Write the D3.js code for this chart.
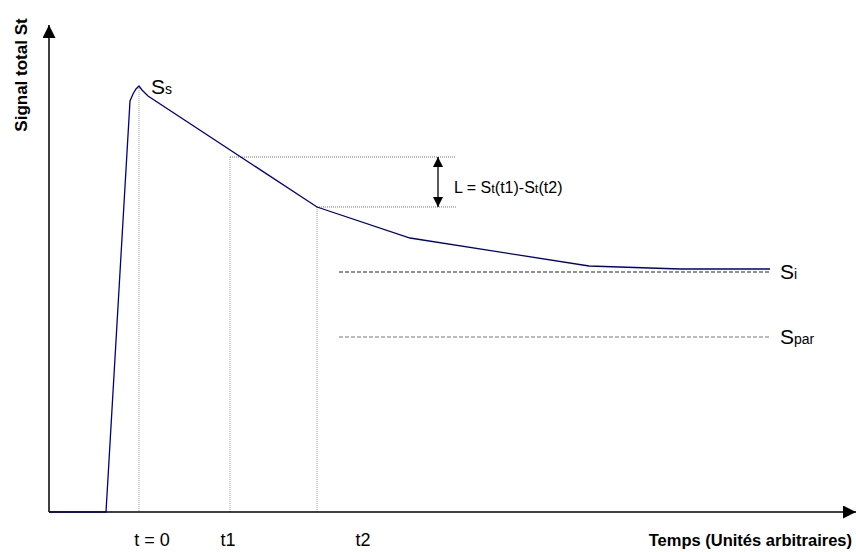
<!DOCTYPE html>
<html>
<head>
<meta charset="utf-8">
<script src="https://cdn.jsdelivr.net/npm/d3@7"></script>
<style>
  body { margin: 0; background: #fff; }
  text { font-family: "Liberation Sans", Arial, sans-serif; }
</style>
</head>
<body>
<div id="chart"></div>
<script>
// signal curve (arbitrary units)
const times   = [0, 57, 81, 84, 87, 90, 93, 99, 268, 361, 540, 631, 721];
const signals = [0, 0, 411, 418, 423, 426, 422, 416, 305, 274, 246, 243, 243];

const tickNames = ["t = 0", "t1", "t2"];
const tickTimes = [90, 181, 268];
const tickLabelPos = [103, 179, 314];
const tickSignals = [426, 355, 305];

const levelNames = ["Si", "Spar"];
const levelValues = [240, 175];

const width = 856, height = 552;
const svg = d3.select("#chart").append("svg")
  .attr("width", width).attr("height", height);

const x = d3.scaleLinear().domain([0, 800]).range([49, 849]);
const y = d3.scaleLinear().domain([0, 487]).range([512, 25]);

const defs = svg.append("defs");
defs.append("marker").attr("id", "arr")
  .attr("viewBox", "0 0 10 10").attr("refX", 10).attr("refY", 5)
  .attr("markerWidth", 10).attr("markerHeight", 10)
  .attr("markerUnits", "userSpaceOnUse")
  .attr("orient", "auto-start-reverse")
  .append("path").attr("d", "M0,0 L10,5 L0,10 Z").attr("fill", "#000");
defs.append("marker").attr("id", "axarr")
  .attr("viewBox", "0 0 10 10").attr("refX", 10).attr("refY", 5)
  .attr("markerWidth", 13).attr("markerHeight", 13)
  .attr("markerUnits", "userSpaceOnUse")
  .attr("orient", "auto")
  .append("path").attr("d", "M0,0 L10,5 L0,10 Z").attr("fill", "#000");

// dotted guide lines for t0, t1, t2
tickTimes.forEach((t, i) => {
  svg.append("line")
    .attr("x1", x(t)).attr("x2", x(t))
    .attr("y1", y(tickSignals[i])).attr("y2", y(0))
    .attr("stroke", "#999").attr("stroke-width", 1)
    .attr("stroke-dasharray", "1,1");
  if (i > 0) {
    svg.append("line")
      .attr("x1", x(t)).attr("x2", x(407))
      .attr("y1", y(tickSignals[i])).attr("y2", y(tickSignals[i]))
      .attr("stroke", "#777").attr("stroke-width", 1)
      .attr("stroke-dasharray", "1,1");
  }
  svg.append("text")
    .attr("x", x(tickLabelPos[i])).attr("y", 546)
    .attr("text-anchor", "middle")
    .attr("font-size", 18)
    .text(tickNames[i]);
});

// level lines Si and Spar
const levelColors = ["#222", "#777"];
levelValues.forEach((v, i) => {
  svg.append("line")
    .attr("x1", x(290)).attr("x2", x(721))
    .attr("y1", y(v)).attr("y2", y(v))
    .attr("stroke", levelColors[i]).attr("stroke-width", 1)
    .attr("stroke-dasharray", "4,2");
  const t = svg.append("text")
    .attr("x", x(731)).attr("y", y(v) + 7)
    .attr("font-size", 21);
  t.append("tspan").text(levelNames[i][0]);
  t.append("tspan").attr("font-size", 14).text(levelNames[i].slice(1));
});

// axes
svg.append("line")
  .attr("x1", x(0)).attr("x2", x(0))
  .attr("y1", y(0)).attr("y2", y(487))
  .attr("stroke", "#000").attr("stroke-width", 1.5)
  .attr("marker-end", "url(#axarr)");
svg.append("line")
  .attr("x1", x(0)).attr("x2", 856)
  .attr("y1", y(0)).attr("y2", y(0))
  .attr("stroke", "#000").attr("stroke-width", 1.5)
  .attr("marker-end", "url(#axarr)");

// signal curve
const pts = times.map((t, i) => [t, signals[i]]);
svg.append("path")
  .datum(pts)
  .attr("d", d3.line().x(d => x(d[0])).y(d => y(d[1])))
  .attr("fill", "none")
  .attr("stroke", "#000080")
  .attr("stroke-width", 1.3);

// Ss label
const ss = svg.append("text").attr("x", x(102)).attr("y", y(418)).attr("font-size", 21);
ss.append("tspan").text("S");
ss.append("tspan").attr("font-size", 14).text("s");

// L double arrow
svg.append("line")
  .attr("x1", x(389)).attr("x2", x(389))
  .attr("y1", y(tickSignals[1])).attr("y2", y(tickSignals[2]))
  .attr("stroke", "#000").attr("stroke-width", 1.3)
  .attr("marker-start", "url(#arr)").attr("marker-end", "url(#arr)");
const lt = svg.append("text").attr("x", x(405)).attr("y", 193).attr("font-size", 16);
lt.append("tspan").text("L = S");
lt.append("tspan").attr("font-size", 13).text("t");
lt.append("tspan").text("(t1)-S");
lt.append("tspan").attr("font-size", 13).text("t");
lt.append("tspan").text("(t2)");

// axis titles
svg.append("text")
  .attr("x", 852).attr("y", 546)
  .attr("text-anchor", "end")
  .attr("font-size", 16.5).attr("font-weight", "bold")
  .text("Temps (Unités arbitraires)");
svg.append("text")
  .attr("transform", "translate(27,75) rotate(-90)")
  .attr("text-anchor", "middle")
  .attr("font-size", 17).attr("font-weight", "bold")
  .text("Signal total St");
</script>
</body>
</html>
